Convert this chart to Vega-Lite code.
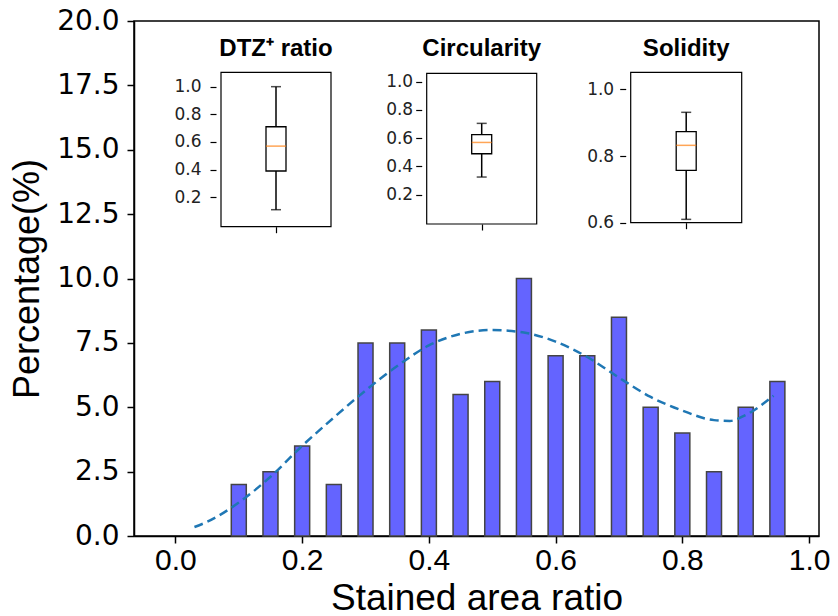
{
  "$schema": "https://vega.github.io/schema/vega-lite/v6.json",
  "width": 685,
  "height": 515,
  "autosize": "none",
  "padding": {"left": 134, "top": 21, "right": 19, "bottom": 80},
  "background": "white",
  "config": {"view": {"stroke": "black", "strokeWidth": 1.5}},
  "datasets": {
    "hist": [
      {"ratio": 0.10, "percentage": 2.0},
      {"ratio": 0.15, "percentage": 2.5},
      {"ratio": 0.20, "percentage": 3.5},
      {"ratio": 0.25, "percentage": 2.0},
      {"ratio": 0.30, "percentage": 7.5},
      {"ratio": 0.35, "percentage": 7.5},
      {"ratio": 0.40, "percentage": 8.0},
      {"ratio": 0.45, "percentage": 5.5},
      {"ratio": 0.50, "percentage": 6.0},
      {"ratio": 0.55, "percentage": 10.0},
      {"ratio": 0.60, "percentage": 7.0},
      {"ratio": 0.65, "percentage": 7.0},
      {"ratio": 0.70, "percentage": 8.5},
      {"ratio": 0.75, "percentage": 5.0},
      {"ratio": 0.80, "percentage": 4.0},
      {"ratio": 0.85, "percentage": 2.5},
      {"ratio": 0.90, "percentage": 5.0},
      {"ratio": 0.95, "percentage": 6.0}
    ],
    "kde": [
      {"ratio": 0.03, "density": 0.35},
      {"ratio": 0.05, "density": 0.55},
      {"ratio": 0.10, "density": 1.3},
      {"ratio": 0.15, "density": 2.3},
      {"ratio": 0.20, "density": 3.5},
      {"ratio": 0.25, "density": 4.6},
      {"ratio": 0.30, "density": 5.65},
      {"ratio": 0.35, "density": 6.6},
      {"ratio": 0.40, "density": 7.4},
      {"ratio": 0.45, "density": 7.85},
      {"ratio": 0.50, "density": 8.0},
      {"ratio": 0.55, "density": 7.9},
      {"ratio": 0.60, "density": 7.55},
      {"ratio": 0.65, "density": 6.95},
      {"ratio": 0.70, "density": 6.15},
      {"ratio": 0.75, "density": 5.4},
      {"ratio": 0.80, "density": 4.87},
      {"ratio": 0.85, "density": 4.5},
      {"ratio": 0.875, "density": 4.47},
      {"ratio": 0.90, "density": 4.7},
      {"ratio": 0.944, "density": 5.45}
    ],
    "box": [
      {"metric": "DTZ+ ratio", "label": "DTZ⁺ ratio", "pos": 1, "low": 0.11, "q1": 0.39, "median": 0.57, "q3": 0.71, "high": 1.0},
      {"metric": "Circularity", "label": "Circularity", "pos": 1, "low": 0.325, "q1": 0.49, "median": 0.57, "q3": 0.625, "high": 0.705},
      {"metric": "Solidity", "label": "Solidity", "pos": 1, "low": 0.61, "q1": 0.757, "median": 0.832, "q3": 0.873, "high": 0.931}
    ]
  },
  "layer": [
    {
      "layer": [
        {
          "data": {"name": "hist"},
          "mark": {"type": "bar", "size": 15, "fill": "#6464ff", "stroke": "#444444", "strokeWidth": 1.5},
          "encoding": {
            "x": {
              "field": "ratio", "type": "quantitative",
              "scale": {"domain": [-0.0575, 1.0078], "nice": false, "zero": false},
              "axis": {
                "orient": "bottom", "values": [0, 0.2, 0.4, 0.6, 0.8, 1.0], "format": ".1f",
                "title": "Stained area ratio", "grid": false,
                "labelFont": "Liberation Sans", "labelFontSize": 30, "labelColor": "black",
                "labelPadding": 2, "labelFlush": false, "labelOverlap": false,
                "tickSize": 7, "tickWidth": 1.5, "tickColor": "black",
                "domainColor": "black", "domainWidth": 1.5,
                "titleFont": "Liberation Sans", "titleFontSize": 37, "titleFontWeight": "normal",
                "titleColor": "black", "titleBaseline": "alphabetic", "titleY": 73
              }
            },
            "y": {
              "field": "percentage", "type": "quantitative",
              "scale": {"domain": [0, 20], "nice": false},
              "axis": {
                "orient": "left", "values": [0, 2.5, 5, 7.5, 10, 12.5, 15, 17.5, 20], "format": ".1f",
                "title": "Percentage(%)", "grid": false,
                "labelFont": "DejaVu Sans", "labelFontSize": 28, "labelColor": "black",
                "labelPadding": 8, "labelOverlap": false, "labelFlush": false,
                "tickSize": 7, "tickWidth": 1.5, "tickColor": "black",
                "domainColor": "black", "domainWidth": 1.5,
                "titleFont": "Liberation Sans", "titleFontSize": 36, "titleFontWeight": "normal",
                "titleColor": "black", "titleBaseline": "alphabetic", "titleAngle": 270, "titleX": -96
              }
            }
          }
        },
        {
          "data": {"name": "kde"},
          "mark": {"type": "line", "color": "#1f77b4", "strokeDash": [9, 5], "strokeWidth": 2.5, "interpolate": "monotone"},
          "encoding": {
            "x": {"field": "ratio", "type": "quantitative"},
            "y": {"field": "density", "type": "quantitative"}
          }
        }
      ]
    },
    {
      "data": {"name": "box"},
      "transform": [{"filter": "datum.metric === 'DTZ+ ratio'"}],
      "encoding": {
        "x": {
          "field": "pos", "type": "quantitative",
          "scale": {"domain": [0.5, 1.5], "range": [82, 202], "nice": false, "zero": false},
          "axis": {"orient": "bottom", "offset": -309.3, "values": [1], "labels": false, "title": null, "domain": false, "grid": false, "tickSize": 6, "tickWidth": 1.2, "tickColor": "black"}
        }
      },
      "layer": [
        {
          "mark": {"type": "rect", "fill": "white", "stroke": "black", "strokeWidth": 1.2},
          "encoding": {
            "x": {"datum": 0.5}, "x2": {"datum": 1.5},
            "y": {
              "datum": -0.013, "type": "quantitative",
              "scale": {"domain": [-0.013, 1.104], "range": [205.7, 51.3], "nice": false, "zero": false},
              "axis": {"orient": "left", "offset": -82, "values": [0.2, 0.4, 0.6, 0.8, 1.0], "format": ".1f", "title": null, "domain": false, "grid": false, "labelFont": "DejaVu Sans", "labelFontSize": 17, "labelColor": "#222222", "labelPadding": 9, "tickSize": 6, "tickWidth": 1.2, "tickColor": "black"}
            },
            "y2": {"datum": 1.104}
          }
        },
        {
          "mark": {"type": "rule", "color": "black", "strokeWidth": 1.5},
          "encoding": {"y": {"field": "low", "type": "quantitative"}, "y2": {"field": "high"}}
        },
        {
          "mark": {"type": "bar", "size": 20, "fill": "white", "stroke": "black", "strokeWidth": 1.3},
          "encoding": {"y": {"field": "q1", "type": "quantitative"}, "y2": {"field": "q3"}}
        },
        {
          "mark": {"type": "tick", "orient": "horizontal", "size": 10, "thickness": 1.5, "color": "black"},
          "encoding": {"y": {"field": "low", "type": "quantitative"}}
        },
        {
          "mark": {"type": "tick", "orient": "horizontal", "size": 10, "thickness": 1.5, "color": "black"},
          "encoding": {"y": {"field": "high", "type": "quantitative"}}
        },
        {
          "mark": {"type": "tick", "orient": "horizontal", "size": 20, "thickness": 1.5, "color": "#ff7f0e"},
          "encoding": {"y": {"field": "median", "type": "quantitative"}}
        },
        {
          "mark": {"type": "text", "font": "Liberation Sans", "fontSize": 24, "fontWeight": "bold", "baseline": "alphabetic", "align": "center", "dy": -16.5, "color": "black"},
          "encoding": {"y": {"datum": 1.104}, "text": {"field": "label"}}
        }
      ]
    },
    {
      "data": {"name": "box"},
      "transform": [{"filter": "datum.metric === 'Circularity'"}],
      "encoding": {
        "x": {
          "field": "pos", "type": "quantitative",
          "scale": {"domain": [0.5, 1.5], "range": [287.7, 407.7], "nice": false, "zero": false},
          "axis": {"orient": "bottom", "offset": -312, "values": [1], "labels": false, "title": null, "domain": false, "grid": false, "tickSize": 6, "tickWidth": 1.2, "tickColor": "black"}
        }
      },
      "layer": [
        {
          "mark": {"type": "rect", "fill": "white", "stroke": "black", "strokeWidth": 1.2},
          "encoding": {
            "x": {"datum": 0.5}, "x2": {"datum": 1.5},
            "y": {
              "datum": -0.0075, "type": "quantitative",
              "scale": {"domain": [-0.0075, 1.0595], "range": [203, 52.3], "nice": false, "zero": false},
              "axis": {"orient": "left", "offset": -287.7, "values": [0.2, 0.4, 0.6, 0.8, 1.0], "format": ".1f", "title": null, "domain": false, "grid": false, "labelFont": "DejaVu Sans", "labelFontSize": 17, "labelColor": "#222222", "labelPadding": 3, "tickSize": 6, "tickWidth": 1.2, "tickColor": "black"}
            },
            "y2": {"datum": 1.0595}
          }
        },
        {
          "mark": {"type": "rule", "color": "black", "strokeWidth": 1.5},
          "encoding": {"y": {"field": "low", "type": "quantitative"}, "y2": {"field": "high"}}
        },
        {
          "mark": {"type": "bar", "size": 20, "fill": "white", "stroke": "black", "strokeWidth": 1.3},
          "encoding": {"y": {"field": "q1", "type": "quantitative"}, "y2": {"field": "q3"}}
        },
        {
          "mark": {"type": "tick", "orient": "horizontal", "size": 10, "thickness": 1.5, "color": "black"},
          "encoding": {"y": {"field": "low", "type": "quantitative"}}
        },
        {
          "mark": {"type": "tick", "orient": "horizontal", "size": 10, "thickness": 1.5, "color": "black"},
          "encoding": {"y": {"field": "high", "type": "quantitative"}}
        },
        {
          "mark": {"type": "tick", "orient": "horizontal", "size": 20, "thickness": 1.5, "color": "#ff7f0e"},
          "encoding": {"y": {"field": "median", "type": "quantitative"}}
        },
        {
          "mark": {"type": "text", "font": "Liberation Sans", "fontSize": 24, "fontWeight": "bold", "baseline": "alphabetic", "align": "center", "dy": -17, "color": "black"},
          "encoding": {"y": {"datum": 1.0595}, "text": {"field": "label"}}
        }
      ]
    },
    {
      "data": {"name": "box"},
      "transform": [{"filter": "datum.metric === 'Solidity'"}],
      "encoding": {
        "x": {
          "field": "pos", "type": "quantitative",
          "scale": {"domain": [0.5, 1.5], "range": [491.7, 612.7], "nice": false, "zero": false},
          "axis": {"orient": "bottom", "offset": -313.3, "values": [1], "labels": false, "title": null, "domain": false, "grid": false, "tickSize": 6, "tickWidth": 1.2, "tickColor": "black"}
        }
      },
      "layer": [
        {
          "mark": {"type": "rect", "fill": "white", "stroke": "black", "strokeWidth": 1.2},
          "encoding": {
            "x": {"datum": 0.5}, "x2": {"datum": 1.5},
            "y": {
              "datum": 0.6, "type": "quantitative",
              "scale": {"domain": [0.6, 1.051], "range": [201.7, 51.3], "nice": false, "zero": false},
              "axis": {"orient": "left", "offset": -491.7, "values": [0.6, 0.8, 1.0], "format": ".1f", "title": null, "domain": false, "grid": false, "labelFont": "DejaVu Sans", "labelFontSize": 17, "labelColor": "#222222", "labelPadding": 6, "tickSize": 6, "tickWidth": 1.2, "tickColor": "black", "labelFlush": false}
            },
            "y2": {"datum": 1.051}
          }
        },
        {
          "mark": {"type": "rule", "color": "black", "strokeWidth": 1.5},
          "encoding": {"y": {"field": "low", "type": "quantitative"}, "y2": {"field": "high"}}
        },
        {
          "mark": {"type": "bar", "size": 20, "fill": "white", "stroke": "black", "strokeWidth": 1.3},
          "encoding": {"y": {"field": "q1", "type": "quantitative"}, "y2": {"field": "q3"}}
        },
        {
          "mark": {"type": "tick", "orient": "horizontal", "size": 10, "thickness": 1.5, "color": "black"},
          "encoding": {"y": {"field": "low", "type": "quantitative"}}
        },
        {
          "mark": {"type": "tick", "orient": "horizontal", "size": 10, "thickness": 1.5, "color": "black"},
          "encoding": {"y": {"field": "high", "type": "quantitative"}}
        },
        {
          "mark": {"type": "tick", "orient": "horizontal", "size": 20, "thickness": 1.5, "color": "#ff7f0e"},
          "encoding": {"y": {"field": "median", "type": "quantitative"}}
        },
        {
          "mark": {"type": "text", "font": "Liberation Sans", "fontSize": 24, "fontWeight": "bold", "baseline": "alphabetic", "align": "center", "dy": -16, "color": "black"},
          "encoding": {"y": {"datum": 1.051}, "text": {"field": "label"}}
        }
      ]
    }
  ],
  "resolve": {"scale": {"x": "independent", "y": "independent"}}
}
